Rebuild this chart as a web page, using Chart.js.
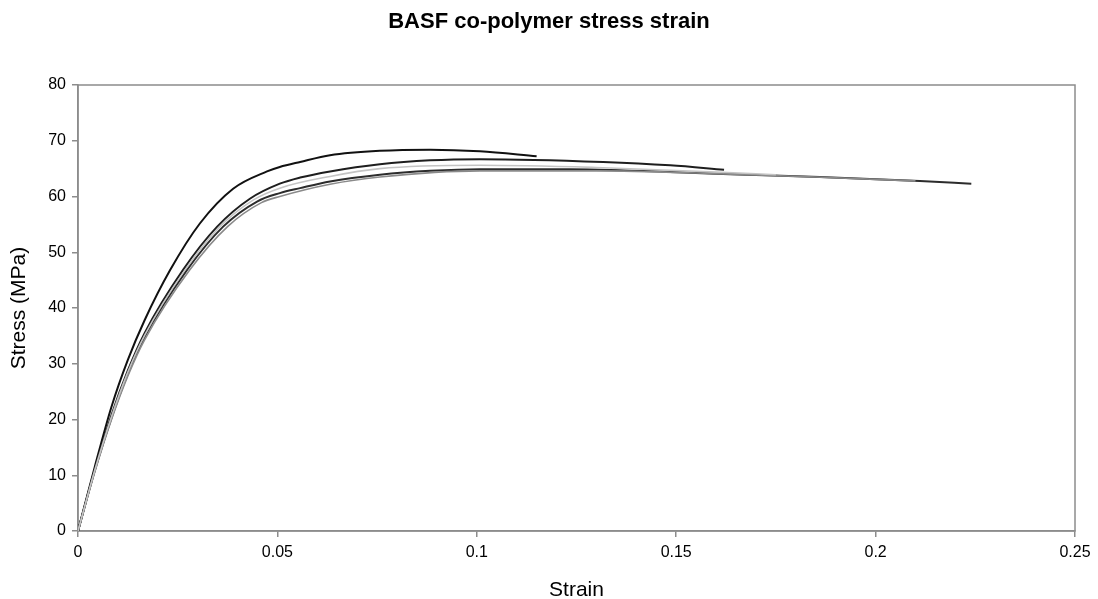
<!DOCTYPE html>
<html>
<head>
<meta charset="utf-8">
<script src="https://cdn.jsdelivr.net/npm/chart.js@4/dist/chart.umd.min.js"></script>
<style>
html,body{margin:0;padding:0;background:#fff;}
#wrap{width:1098px;height:599px;}
</style>
</head>
<body>
<div id="wrap"><canvas id="c" width="1098" height="599"></canvas></div>
<script>
// ---- data ----
const chartTitle = "BASF co-polymer stress strain";
const xTitle = "Strain";
const yTitle = "Stress (MPa)";
const xTickValues = [0, 0.05, 0.1, 0.15, 0.2, 0.25];
const xTickLabels = ["0", "0.05", "0.1", "0.15", "0.2", "0.25"];
const yTickValues = [0, 10, 20, 30, 40, 50, 60, 70, 80];

const seriesNames = ["Sample 1", "Sample 2", "Sample 3", "Sample 4", "Sample 5"];

const strainA = [0, 0.0042, 0.0084, 0.0125, 0.0167, 0.0231, 0.0306, 0.0389, 0.0474, 0.0506, 0.0557, 0.0632, 0.0757, 0.0883, 0.1008, 0.115];
const stressA = [0, 11.5, 22.3, 30.7, 37.8, 46.8, 55.2, 61.4, 64.5, 65.3, 66.2, 67.4, 68.2, 68.4, 68.1, 67.2];

const strainB = [0, 0.0042, 0.0084, 0.0125, 0.0167, 0.0263, 0.0349, 0.0431, 0.0506, 0.0557, 0.0632, 0.0757, 0.0883, 0.1008, 0.1317, 0.1485, 0.162];
const stressB = [0, 11.0, 20.8, 28.8, 35.5, 46.8, 54.6, 59.6, 62.3, 63.4, 64.5, 65.8, 66.5, 66.7, 66.2, 65.6, 64.8];

const strainC = [0, 0.0042, 0.0084, 0.0125, 0.0167, 0.0273, 0.0364, 0.0449, 0.0506, 0.0557, 0.0632, 0.0757, 0.0883, 0.1008, 0.1234, 0.1485, 0.1635, 0.186, 0.2111, 0.224];
const stressC = [0, 10.8, 20.3, 28.2, 34.8, 46.8, 54.6, 59.1, 60.6, 61.5, 62.7, 63.9, 64.6, 64.9, 64.9, 64.4, 64.0, 63.5, 62.8, 62.3];

const strainD = [0, 0.0042, 0.0084, 0.0125, 0.0167, 0.0268, 0.0356, 0.044, 0.0506, 0.0632, 0.0757, 0.1008, 0.13, 0.16, 0.175];
const stressD = [0, 10.9, 20.5, 28.5, 35.1, 46.8, 54.6, 59.4, 61.5, 63.6, 65.0, 65.6, 65.2, 64.4, 63.9];

const strainE = [0, 0.0042, 0.0084, 0.0125, 0.0167, 0.028, 0.0375, 0.046, 0.0506, 0.0632, 0.0757, 0.1008, 0.13, 0.16, 0.185, 0.21];
const stressE = [0, 10.6, 20.0, 27.8, 34.3, 46.8, 54.6, 58.9, 60.0, 62.2, 63.5, 64.6, 64.6, 64.1, 63.5, 62.8];

const seriesColors = ["#111111", "#1e1e1e", "#2c2c2c", "#c4c4c4", "#8a8a8a"];
const seriesWidths = [2, 2, 2, 1.6, 1.6];

function pts(xs, ys){ return xs.map((x,i)=>({x:x, y:ys[i]})); }
const allX = [strainA, strainB, strainC, strainD, strainE];
const allY = [stressA, stressB, stressC, stressD, stressE];
// draw grey ones first, black on top
const order = [3, 4, 2, 1, 0];

const datasets = order.map(i => ({
  label: seriesNames[i],
  data: pts(allX[i], allY[i]),
  borderColor: seriesColors[i],
  borderWidth: seriesWidths[i],
  showLine: true,
  pointRadius: 0,
  fill: false,
  cubicInterpolationMode: 'monotone'
}));

const boxPlugin = {
  id: 'plotBox',
  beforeDatasetsDraw(chart){
    const a = chart.chartArea, ctx = chart.ctx;
    ctx.save();
    ctx.strokeStyle = '#8c8c8c';
    ctx.lineWidth = 1.5;
    ctx.strokeRect(a.left, a.top, a.right - a.left, a.bottom - a.top);
    ctx.restore();
  }
};

const FONT = "'Liberation Sans', Arial, sans-serif";

new Chart(document.getElementById('c'), {
  type: 'scatter',
  data: { datasets },
  options: {
    responsive: false,
    animation: false,
    layout: { padding: { left: 0, right: 0, top: 0, bottom: 0 } },
    plugins: {
      legend: { display: false },
      tooltip: { enabled: false },
      title: {
        display: true,
        text: chartTitle,
        color: '#000',
        font: { family: FONT, size: 22, weight: 'bold' },
        padding: { top: 9, bottom: 49.6 }
      }
    },
    scales: {
      x: {
        type: 'linear',
        min: 0, max: 0.25,
        afterBuildTicks(s){ s.ticks = xTickValues.map(v => ({value: v})); },
        afterFit(s){ s.height = 68; },
        ticks: {
          color: '#000',
          font: { family: FONT, size: 16 },
          padding: 6,
          maxRotation: 0,
          callback: (v) => { const k = xTickValues.findIndex(t => Math.abs(t - v) < 1e-9); return k >= 0 ? xTickLabels[k] : ''; }
        },
        grid: { drawOnChartArea: false, drawTicks: true, tickLength: 6, color: '#8c8c8c', lineWidth: 1.5 },
        border: { display: true, color: '#8c8c8c', width: 1.5 },
        title: { display: true, text: xTitle, color: '#000', font: { family: FONT, size: 21, lineHeight: 0.8 }, padding: { top: 4, bottom: 0 } }
      },
      y: {
        type: 'linear',
        min: 0, max: 80,
        afterBuildTicks(s){ s.ticks = yTickValues.map(v => ({value: v})); },
        afterFit(s){ s.width = 78; },
        ticks: {
          color: '#000',
          font: { family: FONT, size: 16 },
          padding: 6
        },
        grid: { drawOnChartArea: false, drawTicks: true, tickLength: 6, color: '#8c8c8c', lineWidth: 1.5 },
        border: { display: true, color: '#8c8c8c', width: 1.5 },
        title: { display: true, text: yTitle, color: '#000', font: { family: FONT, size: 21 }, padding: { top: 7, bottom: 4 } }
      },
      yRight: {
        type: 'linear',
        position: 'right',
        display: true,
        min: 0, max: 80,
        afterFit(s){ s.width = 23; },
        ticks: { display: false },
        grid: { display: false, drawTicks: false },
        border: { display: false }
      }
    }
  },
  plugins: [boxPlugin]
});
</script>
</body>
</html>
